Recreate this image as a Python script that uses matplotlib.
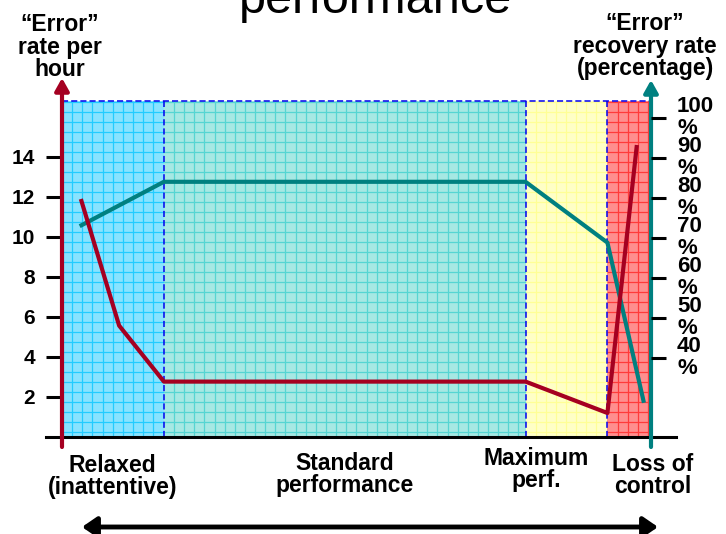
import numpy as np
import matplotlib
matplotlib.use('Agg')
import matplotlib.pyplot as plt
from matplotlib.transforms import blended_transform_factory

plt.rcParams['font.family'] = ['Liberation Sans', 'DejaVu Sans']

# ---------------- data ----------------
title = 'performance'
left_label = '\u201cError\u201d\nrate per\nhour'
right_label = '\u201cError\u201d\nrecovery rate\n(percentage)'
regions = ['Relaxed\n(inattentive)', 'Standard\nperformance', 'Maximum\nperf.', 'Loss of\ncontrol']
region_edges = [0, 17.3, 78.7, 92.6, 100]
error_ticks = [2, 4, 6, 8, 10, 12, 14]
recovery_ticks = [40, 50, 60, 70, 80, 90, 100]
recovery_tick_labels = [f'{v}\n%' for v in recovery_ticks]
error_x = [3.2, 9.7, 17.3, 78.7, 92.6, 97.6]
error_rate = [11.9, 5.57, 2.77, 2.77, 1.2, 14.6]
recovery_x = [3.0, 17.3, 78.7, 92.6, 98.8]
recovery_pct = [72.9, 84.0, 84.0, 68.8, 28.75]

# ---------------- styles ----------------
RED = '#a50021'
TEAL = '#008080'
BLUE = '#0000ee'
region_fill = ['#88e3ff', '#a6e8e3', '#ffffc6', '#ff8e8e']
region_grid = ['#22ccff', '#55d5d2', '#ffff96', '#ff3b3b']
label_x = [8.6, 48.0, 80.5, 100.3]
label_last_base_px = [494, 492, 487, 493]

W, H, DPI = 726, 534, 100
fig = plt.figure(figsize=(W / DPI, H / DPI), dpi=DPI)


def fx(px):
    return px / W


def fy(py):
    return 1 - py / H


L, R, T, B = 62, 651, 101, 437
ax = fig.add_axes([fx(L), fy(B), fx(R) - fx(L), fy(T) - fy(B)])
ax2 = ax.twinx()
YTOP = 16.8
ax.set_xlim(0, 100)
ax.set_ylim(0, YTOP)
ax2.set_ylim(20.2, 104.2)

# region backgrounds with grid
xstep = 1.72
ys = np.arange(0.25, YTOP, 0.5)
for i in range(len(regions)):
    x0, x1 = region_edges[i], region_edges[i + 1]
    ax.axvspan(x0, x1, color=region_fill[i], lw=0, zorder=0)
    xs = np.arange(x0 + xstep, x1 - 0.3, xstep)
    ax.vlines(xs, 0, YTOP, colors=region_grid[i], lw=0.9, zorder=0.5)
    ax.hlines(ys, x0, x1, colors=region_grid[i], lw=0.9, zorder=0.5)

ax.vlines(region_edges[1:-1], 0, YTOP, colors=BLUE, lw=1.1,
          linestyles=(0, (4, 2)), zorder=1)
ax.hlines([YTOP], 0, 100, colors=BLUE, lw=1.1, linestyles=(0, (4, 2)),
          zorder=1, clip_on=False)

# data lines
ax.plot(recovery_x, recovery_pct, color=TEAL, lw=3.0, transform=ax2.transData,
        zorder=3, solid_capstyle='butt')
ax.plot(error_x, error_rate, color=RED, lw=3.0, zorder=4, solid_capstyle='butt')

# baseline
ax.plot([-2.7, 104.2], [0, 0], color='black', lw=2.2, clip_on=False, zorder=5)

# vertical axes with arrows
ax.annotate('', xy=(0, 17.95), xytext=(0, -0.5),
            arrowprops=dict(arrowstyle='-|>,head_length=0.5,head_width=0.28',
                            color=RED, lw=3, shrinkA=0, shrinkB=0, mutation_scale=15),
            annotation_clip=False, zorder=6)
ax.annotate('', xy=(100, 17.85), xytext=(100, -0.5),
            arrowprops=dict(arrowstyle='-|>,head_length=0.5,head_width=0.28',
                            color=TEAL, lw=3, shrinkA=0, shrinkB=0, mutation_scale=15),
            annotation_clip=False, zorder=6)

# ticks
for a in (ax, ax2):
    for s in a.spines.values():
        s.set_visible(False)
ax.set_xticks([])
ax.set_yticks(error_ticks)
ax.set_yticklabels([str(v) for v in error_ticks], fontsize=15, fontweight='bold')
ax.tick_params(axis='y', direction='out', length=11.5, width=2.2, color='black', pad=8)
ax2.set_yticks(recovery_ticks)
ax2.set_yticklabels(recovery_tick_labels, fontsize=16, fontweight='bold',
                    linespacing=1.08, multialignment='left')
for lab in ax2.get_yticklabels():
    lab.set_va('center')
ax2.tick_params(axis='y', direction='out', length=10.8, width=2.2, color='black', pad=8)

# axis labels (va=baseline aligns the last line)
fig.text(fx(60), fy(76), left_label, ha='center', va='baseline', fontsize=16.5,
         fontweight='bold', linespacing=0.97)
fig.text(fx(645), fy(75), right_label, ha='center', va='baseline', fontsize=16.5,
         fontweight='bold', linespacing=0.97)

# title (partly cut off at top, as in the reference)
fig.text(fx(376), fy(13), title, ha='center', va='baseline', fontsize=35)

# region labels
trans = blended_transform_factory(ax.transData, fig.transFigure)
for name, xpos, ypx in zip(regions, label_x, label_last_base_px):
    ax.text(xpos, fy(ypx), name, transform=trans, ha='center', va='baseline',
            fontsize=16.5, fontweight='bold', linespacing=0.93, clip_on=False)

# bottom double arrow
ax.annotate('', xy=(658, 7), xytext=(82, 7), xycoords='figure pixels',
            textcoords='figure pixels',
            arrowprops=dict(arrowstyle='<|-|>,head_length=0.8,head_width=0.55',
                            color='black', lw=3.5, shrinkA=0, shrinkB=0,
                            mutation_scale=11),
            annotation_clip=False)

fig.savefig('out.png', dpi=DPI)
